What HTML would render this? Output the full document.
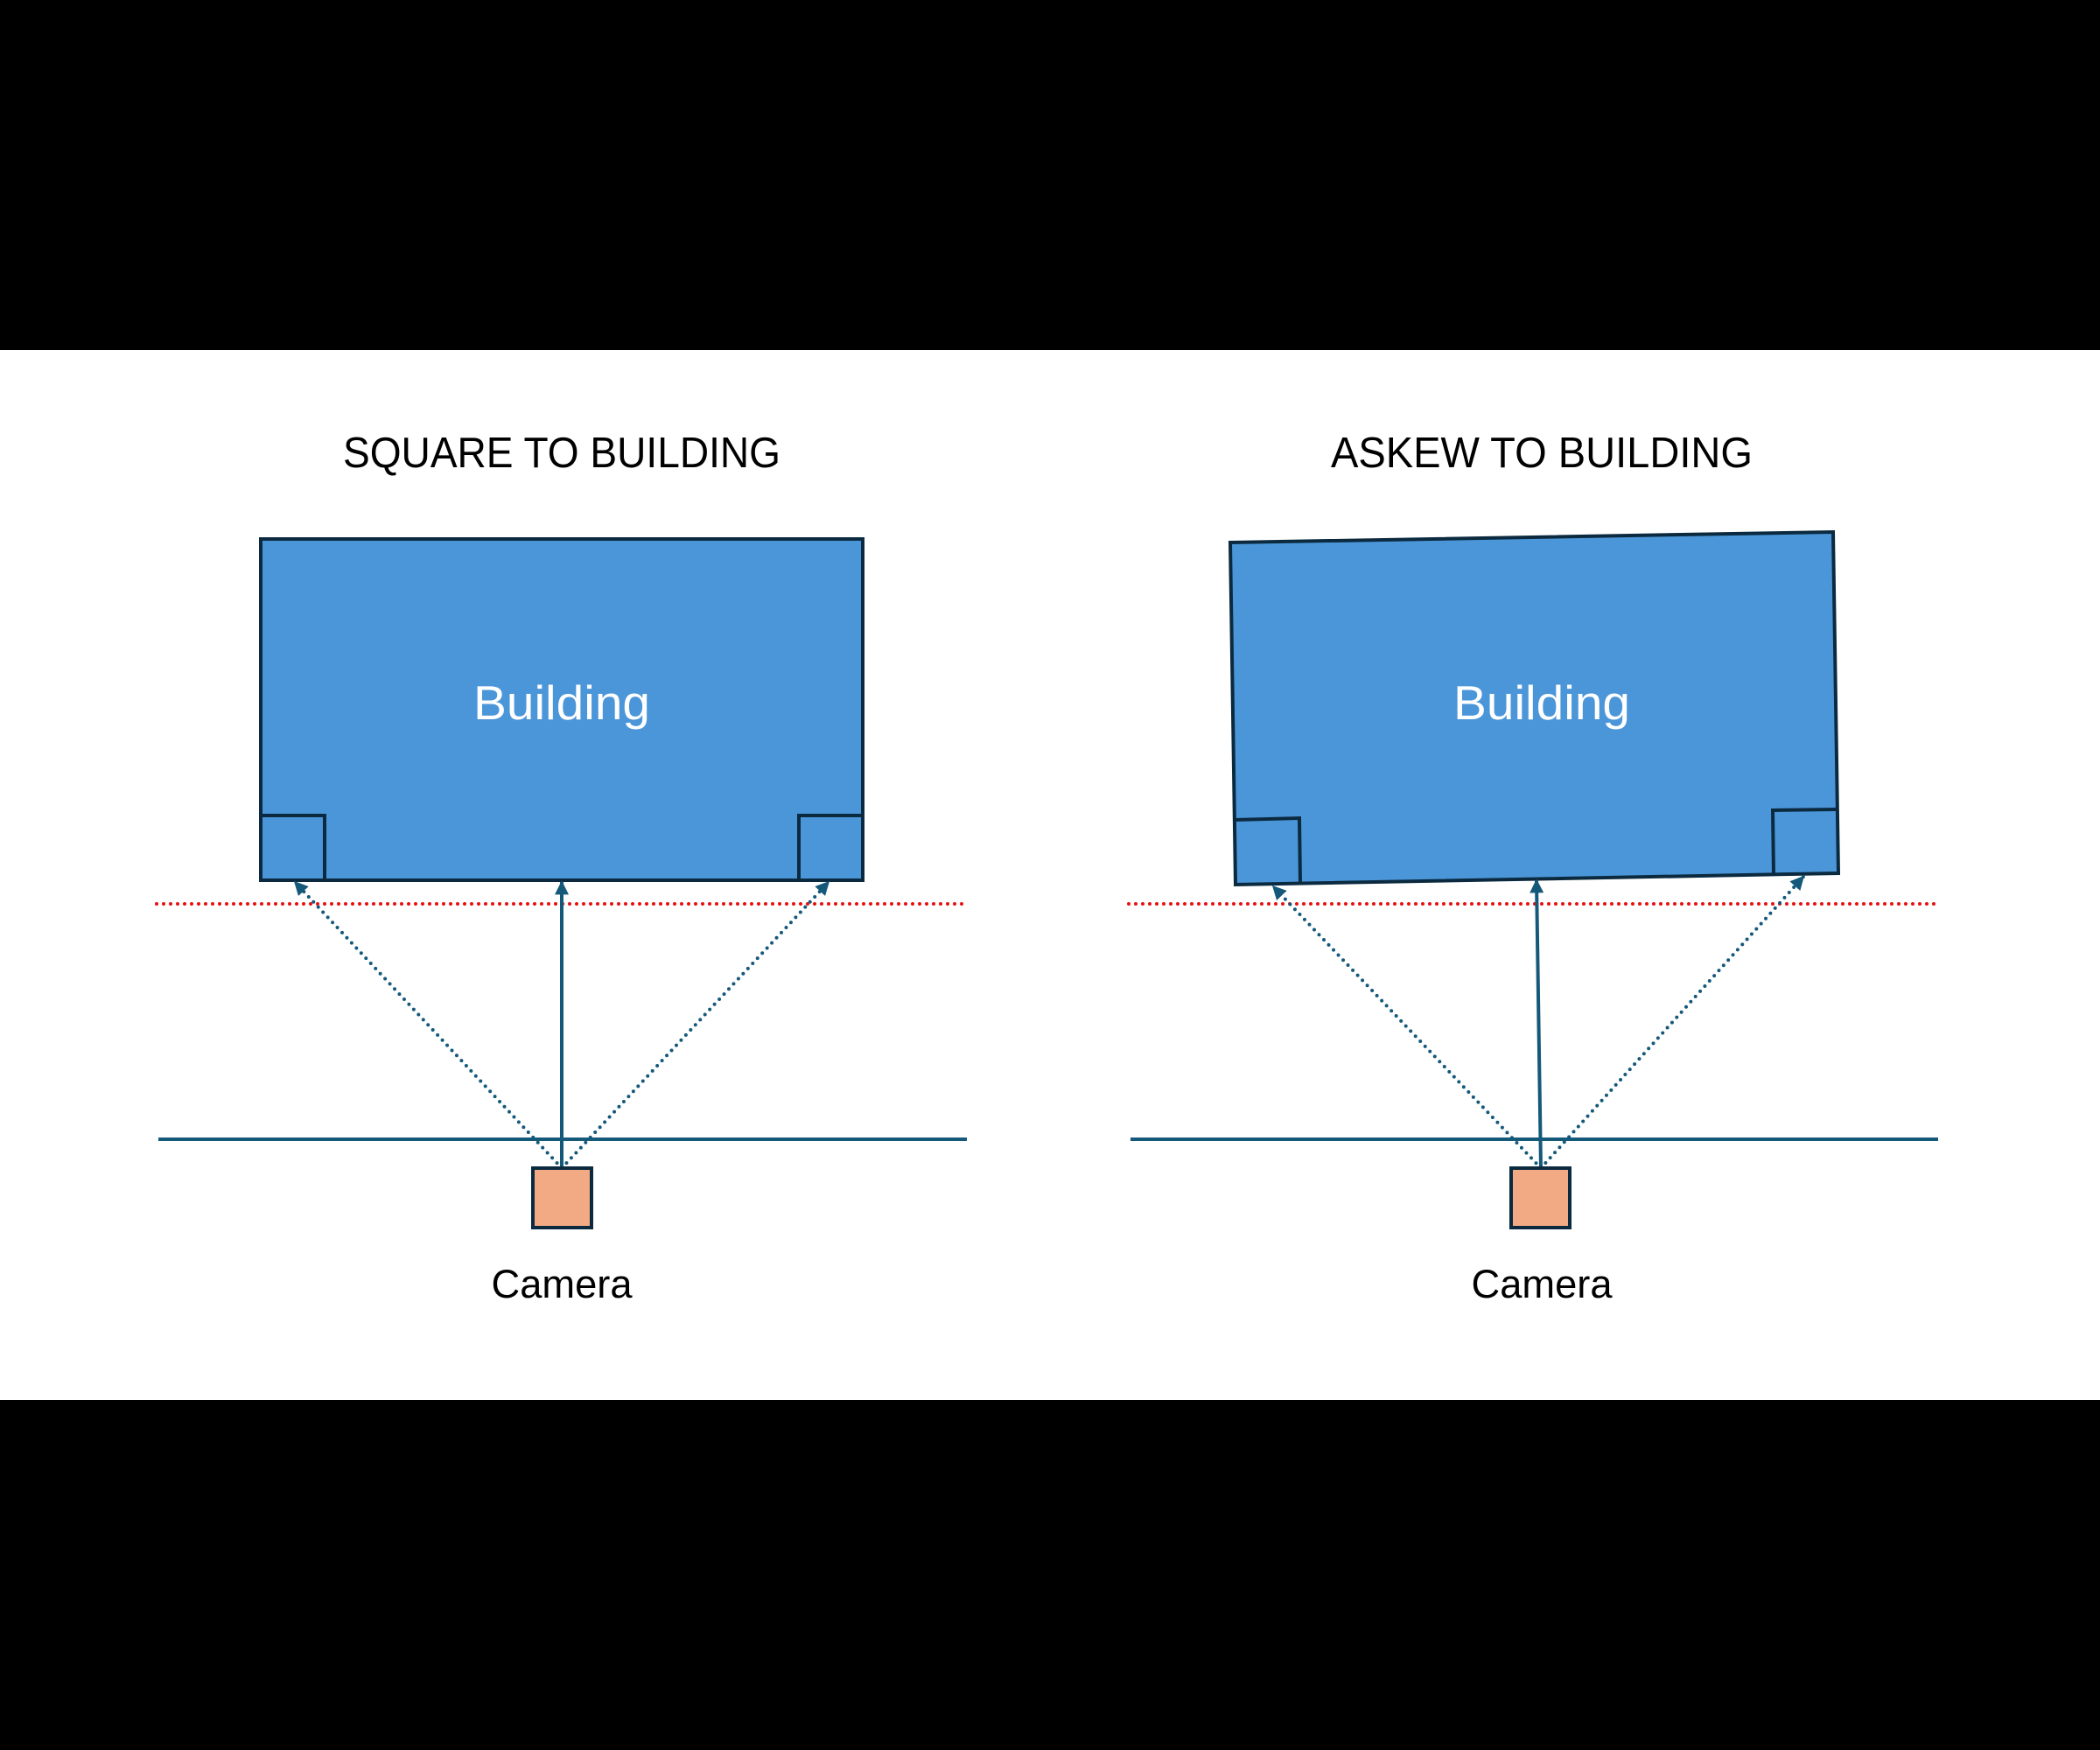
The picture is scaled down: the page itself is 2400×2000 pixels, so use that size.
<!DOCTYPE html>
<html><head><meta charset="utf-8"><style>html,body{margin:0;padding:0;background:#000}svg{display:block}</style></head>
<body>
<svg width="2400" height="2000" viewBox="0 0 2400 2000" xmlns="http://www.w3.org/2000/svg">
<defs>
<marker id="ah" viewBox="0 0 10 10" refX="9" refY="5" markerWidth="4" markerHeight="4" orient="auto" markerUnits="strokeWidth">
<path d="M0,0 L10,5 L0,10 z" fill="#14587a"/>
</marker>
</defs>
<rect x="0" y="0" width="2400" height="2000" fill="#000"/>
<rect x="0" y="400" width="2400" height="1200" fill="#fff"/>

<g font-family="Liberation Sans, sans-serif" text-anchor="middle">
<text x="642" y="534" font-size="49" fill="#000" textLength="500" lengthAdjust="spacingAndGlyphs">SQUARE TO BUILDING</text>
<text x="1762" y="534" font-size="49" fill="#000" textLength="482" lengthAdjust="spacingAndGlyphs">ASKEW TO BUILDING</text>
</g>

<!-- Left panel -->
<rect x="298" y="616" width="688" height="390" fill="#4b96d9" stroke="#0b2a3f" stroke-width="4"/>
<rect x="298" y="932" width="73" height="74" fill="none" stroke="#0b2a3f" stroke-width="4"/>
<rect x="913" y="932" width="73" height="74" fill="none" stroke="#0b2a3f" stroke-width="4"/>
<text x="642" y="822" font-family="Liberation Sans, sans-serif" font-size="55" fill="#fff" text-anchor="middle" textLength="202" lengthAdjust="spacingAndGlyphs">Building</text>
<line x1="179" y1="1033" x2="1105" y2="1033" stroke="#e81010" stroke-width="4" stroke-dasharray="0 8" stroke-linecap="round"/>
<line x1="181" y1="1302" x2="1105" y2="1302" stroke="#14587a" stroke-width="4"/>
<line x1="642" y1="1335" x2="642" y2="1008" stroke="#14587a" stroke-width="4" marker-end="url(#ah)"/>
<line x1="642" y1="1335" x2="337" y2="1008" stroke="#14587a" stroke-width="4" stroke-dasharray="0 8" stroke-linecap="round" marker-end="url(#ah)"/>
<line x1="642" y1="1335" x2="947" y2="1008" stroke="#14587a" stroke-width="4" stroke-dasharray="0 8" stroke-linecap="round" marker-end="url(#ah)"/>
<rect x="609" y="1335" width="67" height="68" fill="#f2aa84" stroke="#0b2a3f" stroke-width="4"/>
<text x="642" y="1483" font-family="Liberation Sans, sans-serif" font-size="45" fill="#000" text-anchor="middle" textLength="161" lengthAdjust="spacingAndGlyphs">Camera</text>

<!-- Right panel -->
<polygon points="1406,620 2095,608 2101,998 1412,1011" fill="#4b96d9" stroke="#0b2a3f" stroke-width="4" stroke-linejoin="miter"/>
<polyline points="1411,937 1485,935 1486,1010" fill="none" stroke="#0b2a3f" stroke-width="4"/>
<polyline points="2027,1000 2026,926 2100,925" fill="none" stroke="#0b2a3f" stroke-width="4"/>
<text x="1762" y="822" font-family="Liberation Sans, sans-serif" font-size="55" fill="#fff" text-anchor="middle" textLength="202" lengthAdjust="spacingAndGlyphs">Building</text>
<line x1="1290" y1="1033" x2="2215" y2="1033" stroke="#e81010" stroke-width="4" stroke-dasharray="0 8" stroke-linecap="round"/>
<line x1="1292" y1="1302" x2="2215" y2="1302" stroke="#14587a" stroke-width="4"/>
<line x1="1761" y1="1335" x2="1756" y2="1006" stroke="#14587a" stroke-width="4" marker-end="url(#ah)"/>
<line x1="1761" y1="1335" x2="1455" y2="1013" stroke="#14587a" stroke-width="4" stroke-dasharray="0 8" stroke-linecap="round" marker-end="url(#ah)"/>
<line x1="1761" y1="1335" x2="2061" y2="1002" stroke="#14587a" stroke-width="4" stroke-dasharray="0 8" stroke-linecap="round" marker-end="url(#ah)"/>
<rect x="1727" y="1335" width="67" height="68" fill="#f2aa84" stroke="#0b2a3f" stroke-width="4"/>
<text x="1762" y="1483" font-family="Liberation Sans, sans-serif" font-size="45" fill="#000" text-anchor="middle" textLength="161" lengthAdjust="spacingAndGlyphs">Camera</text>
</svg>
</body></html>
